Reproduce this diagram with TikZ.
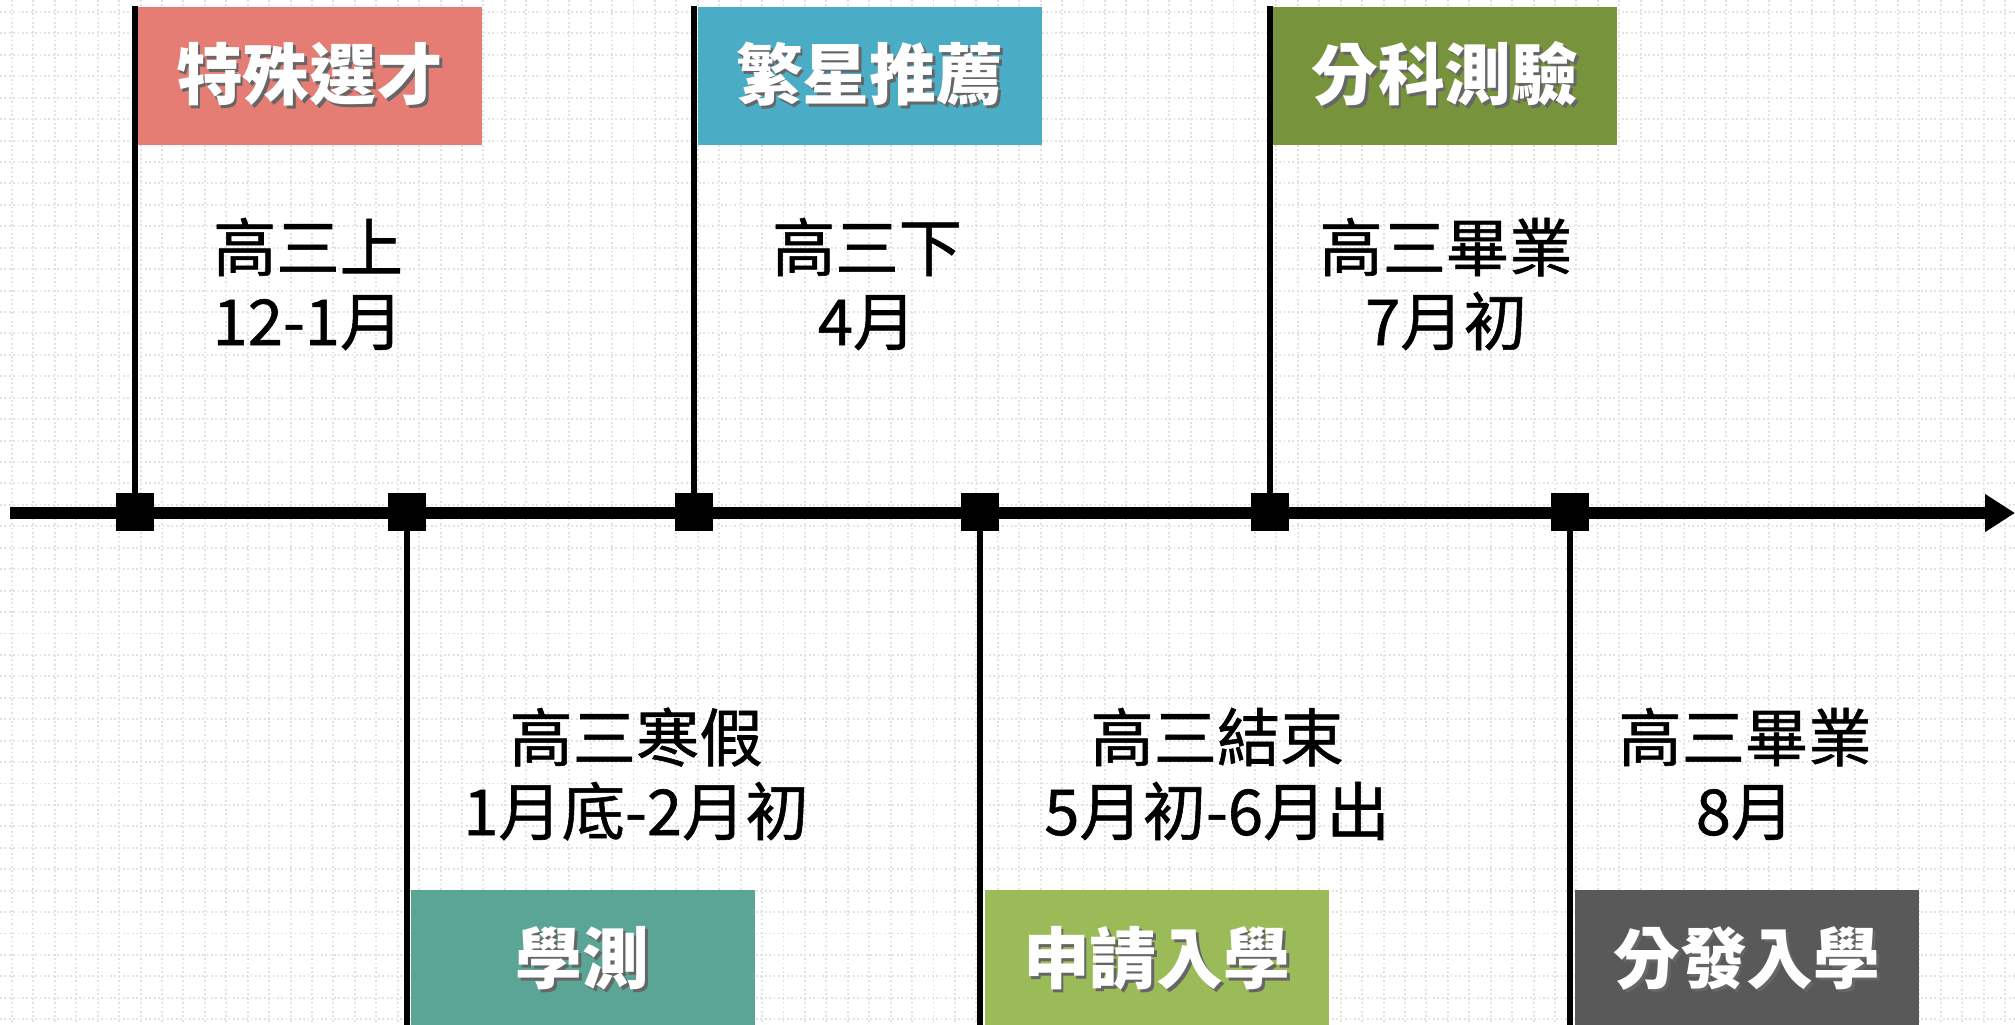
\documentclass[tikz,border=0pt]{standalone}
\usepackage{fontspec}
\setmainfont{Noto Sans CJK TC}
\newfontfamily\infofont[FakeBold=0.9]{Noto Sans CJK TC}
\usetikzlibrary{arrows.meta}
\definecolor{cA}{HTML}{E57D74}
\definecolor{cB}{HTML}{4BACC6}
\definecolor{cC}{HTML}{77933C}
\definecolor{cD}{HTML}{5BA597}
\definecolor{cE}{HTML}{9BBB59}
\definecolor{cF}{HTML}{595959}
\definecolor{gridc}{HTML}{E2E2E2}
\newcommand\shd[1]{\makebox[0pt][l]{\kern0.8pt\raisebox{-0.8pt}{\textcolor{black!60}{#1}}}\textcolor{white}{#1}}
\begin{document}
\begin{tikzpicture}[x=0.01cm,y=-0.01cm,
  gridline/.style={gridc,line width=0.55pt,dash pattern=on 0.5pt off 0.75pt},
  marker/.style={fill=black,draw=none,minimum size=0.38cm,inner sep=0pt},
  pole/.style={line width=1.45pt,black},
  flag/.style={draw=none,minimum width=3.44cm,minimum height=1.38cm,inner sep=0pt,
    font=\fontsize{19pt}{22pt}\selectfont\bfseries},
  info/.style={align=center,font=\fontsize{18pt}{21pt}\infofont,text=black,inner sep=0pt},
  axis/.style={line width=3.4pt,-{Triangle[length=0.3cm,width=0.36cm]}}]
\useasboundingbox (0,0) rectangle (2015,1024);
\fill[white] (0,0) rectangle (2015,1024);
\foreach \i in {0,...,93} {
  \draw[gridline] ({12+21.43*\i},0) -- ({12+21.43*\i},1024);
}
\foreach \i in {0,...,47} {
  \draw[gridline] (0,{12+21.43*\i}) -- (2015,{12+21.43*\i});
}
% axis
\coordinate (ax0) at (10,513);
\coordinate (ax1) at (2015,513);
\draw[axis] (ax0) -- (ax1);
% top flags
\node[flag,fill=cA,anchor=north west] (b1) at (137,6) {\shd{特殊選才}};
\node[flag,fill=cB,anchor=north west] (b2) at (697,6) {\shd{繁星推薦}};
\node[flag,fill=cC,anchor=north west] (b3) at (1272,6) {\shd{分科測驗}};
% bottom flags
\node[flag,fill=cD,anchor=north west,minimum height=1.40cm] (b4) at (410,889) {\shd{學測}};
\node[flag,fill=cE,anchor=north west,minimum height=1.40cm] (b5) at (984,889) {\shd{申請入學}};
\node[flag,fill=cF,anchor=north west,minimum height=1.40cm] (b6) at (1574,889) {\shd{分發入學}};
% markers
\node[marker] (m1) at (135,512) {};
\node[marker] (m2) at (407,512) {};
\node[marker] (m3) at (694,512) {};
\node[marker] (m4) at (980,512) {};
\node[marker] (m5) at (1270,512) {};
\node[marker] (m6) at (1570,512) {};
% poles
\draw[pole] (m1.center) -- (m1.center |- b1.north);
\draw[pole] (m3.center) -- (m3.center |- b2.north);
\draw[pole] (m5.center) -- (m5.center |- b3.north);
\draw[pole] (m2.center) -- (m2.center |- b4.south);
\draw[pole] (m4.center) -- (m4.center |- b5.south);
\draw[pole] (m6.center) -- (m6.center |- b6.south);
% info text
\node[info] (t1) at (308,284) {高三上\\12-1月};
\node[info] (t2) at (867,284) {高三下\\4月};
\node[info] (t3) at (1446,284) {高三畢業\\7月初};
\node[info] (t4) at (636,774) {高三寒假\\1月底-2月初};
\node[info] (t5) at (1217,774) {高三結束\\5月初-6月出};
\node[info] (t6) at (1745,774) {高三畢業\\8月};
\end{tikzpicture}
\end{document}
